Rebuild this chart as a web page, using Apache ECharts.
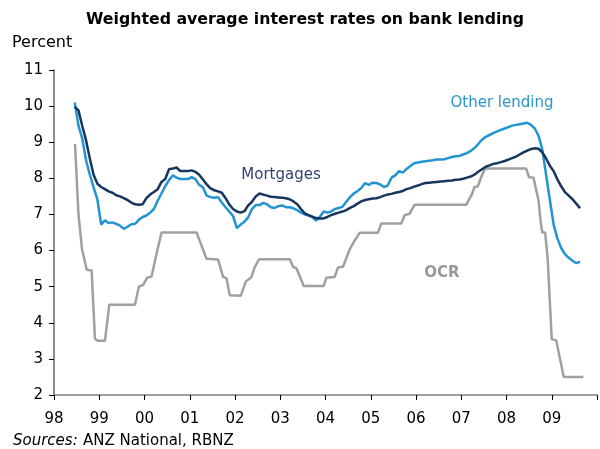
<!DOCTYPE html>
<html><head><meta charset="utf-8">
<script src="https://cdn.jsdelivr.net/npm/echarts@6/dist/echarts.min.js"></script>
<style>html,body{margin:0;padding:0;background:#fff}#c{width:600px;height:449px}</style>
</head><body><div id="c"></div>
<script>
// Monthly series start in June 1998
const startYear = 1998, startMonth = 6;
const mortgages = [
  9.98, 9.88, 9.45, 9.05, 8.55, 8.1, 7.85,
  7.76, 7.7, 7.64, 7.6, 7.53, 7.5, 7.45, 7.4, 7.33, 7.28, 7.27, 7.28,
  7.45, 7.55, 7.62, 7.7, 7.9, 7.98, 8.25, 8.27, 8.3, 8.2, 8.2, 8.2,
  8.22, 8.18, 8.1, 7.97, 7.83, 7.72, 7.67, 7.64, 7.6, 7.45, 7.27, 7.15,
  7.08, 7.05, 7.09, 7.25, 7.35, 7.5, 7.58, 7.55, 7.52, 7.49, 7.48, 7.47,
  7.46, 7.45, 7.42, 7.36, 7.28, 7.15, 7.03, 6.98, 6.94, 6.9, 6.89, 6.89,
  6.93, 6.98, 7.02, 7.05, 7.08, 7.12, 7.18, 7.23, 7.3, 7.36, 7.4, 7.42,
  7.44, 7.45, 7.48, 7.52, 7.55, 7.57, 7.6, 7.62, 7.65, 7.7, 7.73, 7.77,
  7.8, 7.84, 7.87, 7.88, 7.89, 7.9, 7.91, 7.92, 7.93, 7.94, 7.96, 7.97,
  7.99, 8.02, 8.05, 8.1, 8.18, 8.25, 8.32, 8.36, 8.4, 8.42, 8.45, 8.48,
  8.52, 8.56, 8.6, 8.66, 8.72, 8.77, 8.81, 8.83, 8.82, 8.72, 8.55, 8.35,
  8.2, 7.97, 7.78, 7.62, 7.52, 7.42, 7.3, 7.17
];
const otherLending = [
  10.1, 9.45, 9.1, 8.5, 8.1, 7.75, 7.42,
  6.72, 6.84, 6.76, 6.78, 6.74, 6.69, 6.6, 6.66, 6.73, 6.74, 6.85, 6.93,
  6.97, 7.05, 7.15, 7.38, 7.58, 7.78, 7.95, 8.08, 8.02, 7.98, 7.98, 7.98,
  8.03, 7.98, 7.82, 7.75, 7.52, 7.48, 7.46, 7.48, 7.33, 7.2, 7.08, 6.95,
  6.62, 6.72, 6.8, 6.92, 7.15, 7.26, 7.26, 7.32, 7.28, 7.2, 7.18, 7.23,
  7.25, 7.2, 7.2, 7.17, 7.12, 7.05, 7.0, 6.97, 6.93, 6.83, 6.93, 7.08,
  7.05, 7.08, 7.15, 7.18, 7.21, 7.35, 7.48, 7.58, 7.65, 7.73, 7.87, 7.82,
  7.88, 7.87, 7.83, 7.76, 7.8, 8.02, 8.08, 8.2, 8.16, 8.26, 8.34, 8.42,
  8.44, 8.46, 8.47, 8.49, 8.5, 8.52, 8.52, 8.53, 8.56, 8.59, 8.61, 8.62,
  8.66, 8.7, 8.76, 8.84, 8.95, 9.07, 9.15, 9.2, 9.25, 9.3, 9.34, 9.38,
  9.42, 9.46, 9.48, 9.5, 9.52, 9.54, 9.48, 9.38, 9.18, 8.8, 8.1, 7.4,
  6.72, 6.33, 6.07, 5.9, 5.8, 5.72, 5.65, 5.69
];
// OCR (and pre-OCR proxy): dates as decimal years where the level changes
const ocrDates = [
  1998.464, 1998.541, 1998.618, 1998.722, 1998.832, 1998.905, 1998.978, 1999.126, 1999.221,
  1999.788, 1999.876, 1999.971, 2000.060, 2000.157, 2000.267, 2000.377, 2001.150, 2001.371,
  2001.627, 2001.737, 2001.812, 2001.885, 2002.128, 2002.238, 2002.364, 2002.437, 2002.532,
  2003.210, 2003.283, 2003.358, 2003.519, 2003.960, 2004.020, 2004.203, 2004.276, 2004.386,
  2004.534, 2004.645, 2004.755, 2005.159, 2005.233, 2005.675, 2005.748, 2005.859, 2005.969,
  2007.111, 2007.228, 2007.294, 2007.367, 2007.442, 2007.525, 2008.435, 2008.497, 2008.596,
  2008.656, 2008.707, 2008.751, 2008.790, 2008.854, 2008.912, 2009.000, 2009.097, 2009.265, 2009.700
];
const ocrValues = [
  8.95, 7.0, 6.05, 5.47, 5.45, 3.55, 3.5, 3.5, 4.5,
  4.5, 5.0, 5.05, 5.25, 5.28, 5.92, 6.5, 6.5, 5.77,
  5.75, 5.27, 5.23, 4.76, 4.75, 5.14, 5.27, 5.54, 5.76,
  5.76, 5.55, 5.51, 5.02, 5.02, 5.25, 5.27, 5.53, 5.55,
  6.03, 6.28, 6.49, 6.49, 6.75, 6.75, 6.98, 7.02, 7.27,
  7.27, 7.54, 7.76, 7.78, 8.04, 8.27, 8.27, 8.03, 8.02,
  7.68, 7.4, 6.84, 6.5, 6.5, 5.74, 3.54, 3.52, 2.5, 2.5
];
const xTickLabels = ['98','99','00','01','02','03','04','05','06','07','08','09'];
const yMin = 2, yMax = 11;

const monthDate = i => startYear + (startMonth - 1 + i + 0.5) / 12;
const toPairs = arr => arr.map((v, i) => [monthDate(i), v]);
const ocrPairs = ocrDates.map((d, i) => [d, ocrValues[i]]);

const FONT = '"DejaVu Sans", Verdana, sans-serif';
const chart = echarts.init(document.getElementById('c'), null, {renderer: 'canvas'});
chart.setOption({
  animation: false,
  backgroundColor: '#fff',
  grid: {left: 54, right: 3, top: 70, bottom: 54, containLabel: false},
  xAxis: {
    type: 'value', min: 1998, max: 2010, interval: 1,
    axisLine: {show: true, lineStyle: {color: '#808080', width: 1.5}},
    axisTick: {show: true, inside: false, length: 5, lineStyle: {color: '#000', width: 1}},
    axisLabel: {
      fontFamily: FONT, fontSize: 15, color: '#000', margin: 17,
      showMinLabel: true, showMaxLabel: true,
      formatter: v => xTickLabels[Math.round(v) - 1998] || ''
    },
    splitLine: {show: false}
  },
  yAxis: {
    type: 'value', min: yMin, max: yMax, interval: 1,
    axisLine: {show: true, lineStyle: {color: '#666', width: 1.5}},
    axisTick: {show: true, inside: false, length: 5, lineStyle: {color: '#000', width: 1}},
    axisLabel: {fontFamily: FONT, fontSize: 15, color: '#000', margin: 11},
    splitLine: {show: false}
  },
  series: [
    {name: 'OCR', type: 'line', data: ocrPairs, showSymbol: false, symbol: 'none',
     lineStyle: {color: '#a0a0a0', width: 2.5}, z: 2},
    {name: 'Other lending', type: 'line', data: toPairs(otherLending), showSymbol: false, symbol: 'none',
     lineStyle: {color: '#2294d2', width: 2.5}, z: 3},
    {name: 'Mortgages', type: 'line', data: toPairs(mortgages), showSymbol: false, symbol: 'none',
     lineStyle: {color: '#17365d', width: 2.5}, z: 4}
  ],
  graphic: [
    {type: 'text', x: 305, y: 20, style: {text: 'Weighted average interest rates on bank lending',
      font: 'bold 15.75px ' + FONT, fill: '#000',
      textAlign: 'center', align: 'center', textVerticalAlign: 'middle', verticalAlign: 'middle'}},
    {type: 'text', x: 12, y: 43, style: {text: 'Percent', font: '16px ' + FONT, fill: '#000',
      textVerticalAlign: 'middle', verticalAlign: 'middle'}},
    {type: 'text', x: 281, y: 175, style: {text: 'Mortgages', font: '15px ' + FONT, fill: '#2e4370',
      textAlign: 'center', align: 'center', textVerticalAlign: 'middle', verticalAlign: 'middle'}},
    {type: 'text', x: 502, y: 103, style: {text: 'Other lending', font: '15px ' + FONT, fill: '#2a95d0',
      textAlign: 'center', align: 'center', textVerticalAlign: 'middle', verticalAlign: 'middle'}},
    {type: 'text', x: 442, y: 273, style: {text: 'OCR', font: 'bold 15px ' + FONT, fill: '#999999',
      textAlign: 'center', align: 'center', textVerticalAlign: 'middle', verticalAlign: 'middle'}},
    {type: 'text', x: 13, y: 441, style: {text: 'Sources:', font: 'italic 15px ' + FONT, fill: '#000',
      textVerticalAlign: 'middle', verticalAlign: 'middle'}},
    {type: 'text', x: 83, y: 441, style: {text: 'ANZ National, RBNZ', font: '15px ' + FONT, fill: '#000',
      textVerticalAlign: 'middle', verticalAlign: 'middle'}}
  ]
});
</script>
</body></html>
